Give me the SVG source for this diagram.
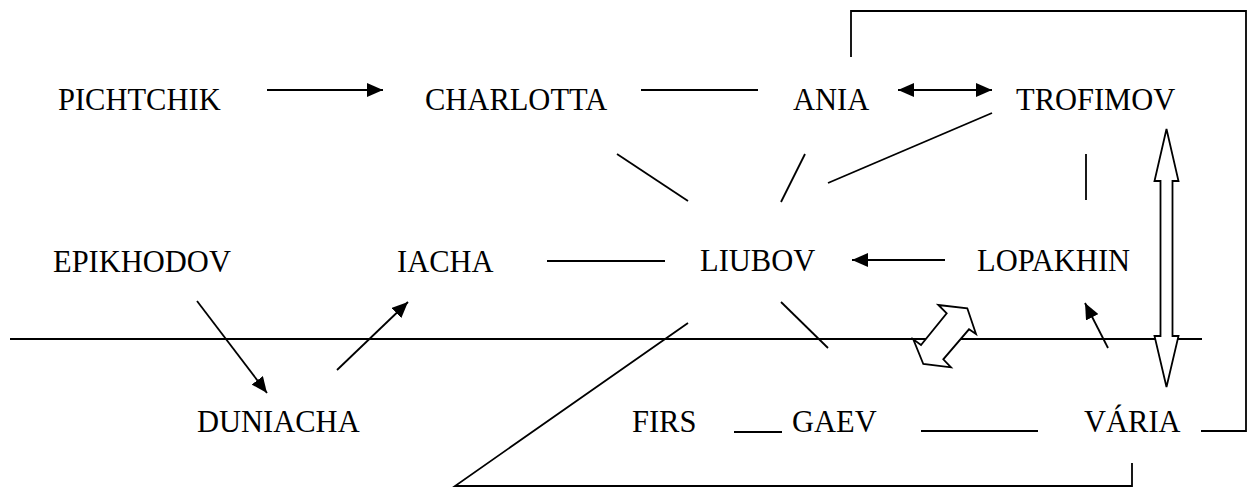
<svg xmlns="http://www.w3.org/2000/svg" width="1248" height="488" viewBox="0 0 1248 488">
<style>
  text { font-family: "Liberation Serif", "Times New Roman", serif; font-size: 30.5px; fill: #000; }
  .ln { stroke: #000; stroke-width: 1.8; fill: none; }
  .hollow { stroke: #000; stroke-width: 1.8; fill: #fff; stroke-linejoin: miter; }
</style>
<defs>
  <marker id="arr" viewBox="0 0 16 14" refX="16" refY="7" markerWidth="16" markerHeight="14" markerUnits="userSpaceOnUse" orient="auto-start-reverse">
    <path d="M0,0 L16,7 L0,14 z" fill="#000"/>
  </marker>
</defs>
<rect width="1248" height="488" fill="#fff"/>

<g id="connectors">
  <line class="ln" x1="10" y1="339" x2="1202" y2="339"/>
  <line class="ln" x1="267" y1="90" x2="383" y2="90" marker-end="url(#arr)"/>
  <line class="ln" x1="641" y1="90" x2="758" y2="90"/>
  <line class="ln" x1="898" y1="90" x2="992" y2="90" marker-start="url(#arr)" marker-end="url(#arr)"/>
  <path class="ln" d="M851,57 V11 H1246 V431 H1201"/>
  <line class="ln" x1="992" y1="113" x2="828" y2="183"/>
  <line class="ln" x1="805" y1="154" x2="781" y2="202"/>
  <line class="ln" x1="617" y1="154" x2="688" y2="201"/>
  <line class="ln" x1="1086" y1="154" x2="1086" y2="200"/>
  <line class="ln" x1="547" y1="261" x2="665" y2="261"/>
  <line class="ln" x1="945" y1="260" x2="852" y2="260" marker-end="url(#arr)"/>
  <line class="ln" x1="781" y1="302" x2="828" y2="348"/>
  <path class="ln" d="M688,323 L455,486 H1132 V463"/>
  <line class="ln" x1="197" y1="301" x2="267" y2="393" marker-end="url(#arr)"/>
  <line class="ln" x1="337" y1="370" x2="408" y2="302" marker-end="url(#arr)"/>
  <line class="ln" x1="734" y1="432" x2="782" y2="432"/>
  <line class="ln" x1="921" y1="431" x2="1038" y2="431"/>
  <line class="ln" x1="1108" y1="348" x2="1085" y2="303" marker-end="url(#arr)"/>
  <polygon class="hollow" points="1166.5,129 1178.5,181 1172.5,181 1172.5,336 1178.5,336 1166.5,387 1154.5,336 1160.5,336 1160.5,181 1154.5,181"/>
  <polygon class="hollow" points="938.3,305 967.3,308.3 976,334 969,329.3 943.3,359.3 951,367.3 923.3,364 913.3,339.3 921,345 946.7,313.3"/>
</g>

<g id="node-pichtchik"><text x="58" y="110">PICHTCHIK</text></g>
<g id="node-charlotta"><text x="425" y="110">CHARLOTTA</text></g>
<g id="node-ania"><text x="793" y="110">ANIA</text></g>
<g id="node-trofimov"><text x="1016" y="110">TROFIMOV</text></g>
<g id="node-epikhodov"><text x="53" y="272">EPIKHODOV</text></g>
<g id="node-iacha"><text x="397" y="272">IACHA</text></g>
<g id="node-liubov"><text x="700" y="271">LIUBOV</text></g>
<g id="node-lopakhin"><text x="977" y="271">LOPAKHIN</text></g>
<g id="node-duniacha"><text x="197" y="432">DUNIACHA</text></g>
<g id="node-firs"><text x="632" y="432">FIRS</text></g>
<g id="node-gaev"><text x="792" y="432">GAEV</text></g>
<g id="node-varia"><text x="1084" y="432">VÁRIA</text></g>
</svg>
